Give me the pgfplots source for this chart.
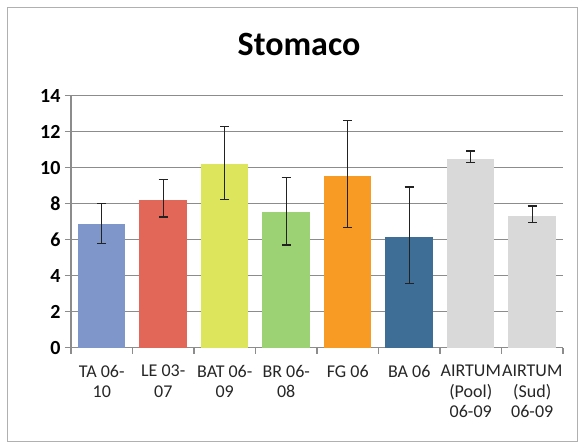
\documentclass[border=0pt]{standalone}
\usepackage{pgfplots}
\pgfplotsset{compat=1.18}
\usepackage{fontspec}
\setmainfont{Carlito}
\definecolor{cTA}{HTML}{7F96CB}
\definecolor{cLE}{HTML}{E26758}
\definecolor{cBAT}{HTML}{DCE55B}
\definecolor{cBR}{HTML}{9CD174}
\definecolor{cFG}{HTML}{F89B25}
\definecolor{cBA}{HTML}{3E6D95}
\definecolor{cAIR}{HTML}{D9D9D9}
\definecolor{gridc}{HTML}{8C8C8C}
\definecolor{framec}{HTML}{B0B0B0}
\definecolor{errc}{HTML}{222222}
\begin{document}
\begin{tikzpicture}
\begin{axis}[
  scale only axis,
  width=492pt, height=252pt,
  xmin=-0.5, xmax=7.5,
  ymin=0, ymax=14,
  ytick={0,2,...,14},
  xtick={0,...,7},
  xticklabels={{TA 06-\\10},{LE 03-\\07},{BAT 06-\\09},{BR 06-\\08},{FG 06},{BA 06},{AIRTUM\\(Pool)\\06-09},{AIRTUM\\(Sud)\\06-09}},
  minor xtick={-0.5,0.5,...,7.5},
  major x tick style={draw=none},
  minor x tick style={gridc, line width=1.1pt},
  minor tick length=6pt,
  major tick length=6pt,
  tick align=outside,
  axis x line*=bottom,
  axis y line*=left,
  axis line style={gridc, line width=1.1pt},
  y tick style={gridc, line width=1.1pt},
  ymajorgrids,
  grid style={gridc, line width=1.1pt},
  /pgf/number format/assume math mode=true,
  yticklabel style={font=\fontsize{20}{24}\selectfont\bfseries, text=black, xshift=-1pt},
  xticklabel style={font=\fontsize{18}{20.5}\selectfont, text=black!85, align=center, yshift=-8pt},
  ybar, bar width=47.5pt, bar shift=0pt,
  every axis plot/.append style={draw=none,
    /pgfplots/error bars/y dir=both,
    /pgfplots/error bars/y explicit,
    /pgfplots/error bars/error bar style={errc, line width=1.3pt},
    /pgfplots/error bars/error mark options={rotate=90, mark size=4.5pt, errc, line width=1.3pt}},
]
\addplot[fill=cTA] coordinates {(0,6.87) += (0,1.13) -= (0,1.07)};
\addplot[fill=cLE] coordinates {(1,8.20) += (0,1.13) -= (0,0.94)};
\addplot[fill=cBAT] coordinates {(2,10.19) += (0,2.10) -= (0,1.97)};
\addplot[fill=cBR] coordinates {(3,7.52) += (0,1.95) -= (0,1.82)};
\addplot[fill=cFG] coordinates {(4,9.54) += (0,3.10) -= (0,2.85)};
\addplot[fill=cBA] coordinates {(5,6.17) += (0,2.76) -= (0,2.59)};
\addplot[fill=cAIR] coordinates {(6,10.50) += (0,0.43) -= (0,0.22)};
\addplot[fill=cAIR] coordinates {(7,7.33) += (0,0.54) -= (0,0.39)};
\end{axis}
\node[anchor=base, font=\fontsize{34}{40}\selectfont\bfseries] at (228pt,291.7pt) {Stomaco};
\draw[framec, line width=1pt] (-63pt,-94pt) rectangle (506pt,339.7pt);
\path[use as bounding box] (-71pt,-96.3pt) rectangle (511pt,347.7pt);
\end{tikzpicture}
\end{document}
